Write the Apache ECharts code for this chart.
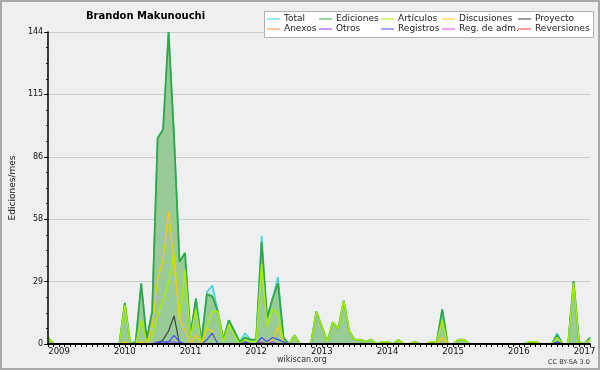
<!DOCTYPE html>
<html><head><meta charset="utf-8">
<script src="https://cdn.jsdelivr.net/npm/echarts@6/dist/echarts.min.js"></script>
<style>html,body{margin:0;padding:0;background:#fff}#c{width:600px;height:370px}</style>
</head><body><div id="c"></div>
<script>
// Months from Nov 2008 to Feb 2017 (category labels)
const firstYear = 2008, firstMonth = 11, monthCount = 100;
const months = [];
for (let k = 0; k < monthCount; k++) {
  const m = firstMonth - 1 + k;
  months.push((firstYear + Math.floor(m / 12)) + '-' + String(m % 12 + 1).padStart(2, '0'));
}
const yTicks = [0, 29, 58, 86, 115, 144];
const seriesNames = ['Total','Ediciones','Artículos','Discusiones','Proyecto','Anexos','Otros','Registros','Reg. de adm.','Reversiones'];

// rows: Nov-Dec 2008 | 2009 | 2010 | 2011 | 2012 | 2013 | 2014 | 2015 | 2016 | Jan-Feb 2017
const total = [3,0,
  0,0,0,0,0,0,0,0,0,0,0,0,
  19,0,1,28,2,15,95,99,144,97,38,42,
  4,21,1,24,27,15,2,11,6,1,5,2,
  2,50,12,21,31,3,0,4,0,0,0,15,
  8,1,10,7,20,6,2,2,1,2,0,1,
  1,0,2,0,0,1,0,0,1,1,16,0,
  0,2,2,0,0,0,0,0,0,0,0,0,
  0,0,1,1,0,0,0,5,0,0,29,1,
  0,3];
const ediciones = [3,0,
  0,0,0,0,0,0,0,0,0,0,0,0,
  19,0,1,28,2,15,95,99,144,95,38,42,
  4,21,1,23,22,15,2,11,6,1,3,2,
  2,47,12,21,28,3,0,4,0,0,0,15,
  8,1,10,7,20,6,2,2,1,2,0,1,
  1,0,2,0,0,1,0,0,1,1,16,0,
  0,2,2,0,0,0,0,0,0,0,0,0,
  0,0,1,1,0,0,0,4,0,0,29,1,
  0,3];
const articulos = [3,0,
  0,0,0,0,0,0,0,0,0,0,0,0,
  18,0,0,11,1,3,13,20,28,42,11,34,
  3,16,0,8,15,15,1,9,4,0,2,1,
  1,37,8,16,14,1,0,4,0,0,0,15,
  8,1,10,7,20,6,2,2,1,2,0,1,
  1,0,2,0,0,1,0,0,1,1,11,0,
  0,2,2,0,0,0,0,0,0,0,0,0,
  0,0,1,1,0,0,0,3,0,0,28,1,
  0,2];
const discusiones = [0,0,
  0,0,0,0,0,0,0,0,0,0,0,0,
  1,0,0,1,0,8,30,39,61,38,12,6,
  0,4,0,7,6,0,0,0,0,0,0,0,
  0,1,0,2,8,1,0,0,0,0,0,0,
  0,0,0,0,0,0,0,0,0,0,0,0,
  0,0,0,0,0,0,0,0,0,0,3,0,
  0,0,0,0,0,0,0,0,0,0,0,0,
  0,0,0,0,0,0,0,0,0,0,0,0,
  0,0];
const proyecto = [0,0,
  0,0,0,0,0,0,0,0,0,0,0,0,
  0,0,0,0,0,0,0,2,6,13,0,0,
  0,0,0,0,0,0,0,0,0,0,0,0,
  0,0,0,0,0,0,0,0,0,0,0,0,
  0,0,0,0,0,0,0,0,0,0,0,0,
  0,0,0,0,0,0,0,0,0,0,0,0,
  0,0,0,0,0,0,0,0,0,0,0,0,
  0,0,0,0,0,0,0,0,0,0,0,0,
  0,0];
const anexos = [0,0,
  0,0,0,0,0,0,0,0,0,0,0,0,
  0,0,0,0,0,0,0,0,0,0,0,0,
  0,0,0,0,0,0,0,0,0,0,0,0,
  0,0,0,0,0,0,0,0,0,0,0,0,
  0,0,0,0,0,0,0,0,0,0,0,0,
  0,0,0,0,0,0,0,0,0,0,0,0,
  0,0,0,0,0,0,0,0,0,0,0,0,
  0,0,0,0,0,0,0,0,0,0,0,0,
  0,0];
const otros = [0,0,
  0,0,0,0,0,0,0,0,0,0,0,0,
  0,0,0,0,0,0,0,0,1,1,0,0,
  0,0,0,0,0,0,0,0,0,0,0,0,
  0,1,0,1,0,0,0,0,0,0,0,0,
  0,0,0,0,0,0,0,0,0,0,0,0,
  0,0,0,0,0,0,0,0,0,0,0,0,
  0,0,0,0,0,0,0,0,0,0,0,0,
  0,0,0,0,0,0,0,0,0,0,0,0,
  0,0];
const registros = [0,0,
  0,0,0,0,0,0,0,0,0,0,0,0,
  0,0,0,0,0,0,1,1,1,4,1,0,
  0,0,0,2,5,0,0,0,0,0,1,0,
  0,3,1,3,2,1,0,0,0,0,0,0,
  0,0,0,0,0,0,0,0,0,0,0,0,
  0,0,0,0,0,0,0,0,0,0,0,0,
  0,0,0,0,0,0,0,0,0,0,0,0,
  0,0,0,0,0,0,0,1,0,0,0,0,
  0,0];
const regAdm = anexos.slice();
const reversiones = anexos.slice();

const lineColors = ['#3fd3cf','#2ea844','#a8ee00','#ffc800','#404040','#ff8840','#9933ee','#4a4aff','#ee44ee','#ff3333'];
const seriesData = [total, ediciones, articulos, discusiones, proyecto, anexos, otros, registros, regAdm, reversiones];
const lineWidths = [1.5, 1.8, 1.5, 1.2, 1.2, 1, 1, 1.2, 1, 1];

const FONT = "'DejaVu Sans', sans-serif";
const chart = echarts.init(document.getElementById('c'), null, {renderer: 'canvas'});

const series = seriesNames.map((name, k) => {
  const s = {
    name, type: 'line', data: seriesData[k], symbol: 'none', animation: false,
    color: lineColors[k], itemStyle: {color: lineColors[k]},
    lineStyle: {color: lineColors[k], width: lineWidths[k]}, z: 2 + k * 0.01
  };
  if (k === 0) s.areaStyle = {color: '#c9eeec', opacity: 1};
  if (k === 1) s.areaStyle = {color: '#99cb99', opacity: 1};
  return s;
});

const colX = [267, 319, 381, 442, 518];
const rowY = [14, 24];
const legends = seriesNames.map((name, k) => ({
  data: [name], left: colX[k % 5], top: rowY[Math.floor(k / 5)],
  icon: 'rect', itemWidth: 13, itemHeight: 1, itemGap: 0, padding: 0,
  selectedMode: false, z: 20,
  textStyle: {fontFamily: FONT, fontSize: 9, color: '#222', lineHeight: 10, padding: [0, 0, 0, -1]}
}));

chart.setOption({
  backgroundColor: '#eeeff1',
  animation: false,
  title: [
    {text: 'Brandon Makunouchi', left: 86, top: 11, padding: 0,
     textStyle: {fontFamily: FONT, fontSize: 10, fontWeight: 'bold', color: '#000'}},
    {text: 'wikiscan.org', left: 277, top: 356, padding: 0,
     textStyle: {fontFamily: FONT, fontSize: 8, fontWeight: 'normal', color: '#333'}},
    {text: 'CC BY-SA 3.0', left: 548, top: 359, padding: 0,
     textStyle: {fontFamily: FONT, fontSize: 6.5, fontWeight: 'normal', color: '#333'}}
  ],
  legend: legends,
  graphic: [
    {type: 'rect', z: -1, silent: true, shape: {x: 1, y: 1, width: 598, height: 368},
     style: {fill: null, stroke: '#a8a8a8', lineWidth: 2}},
    {type: 'rect', z: 5, silent: true, shape: {x: 264.5, y: 11.5, width: 329, height: 26},
     style: {fill: '#ffffff', stroke: '#b0b0b0', lineWidth: 1}}
  ],
  grid: {left: 46, right: 10, top: 32, bottom: 26, containLabel: false},
  xAxis: {
    type: 'category', data: months, boundaryGap: false, z: 10,
    axisLine: {lineStyle: {color: '#000', width: 2}},
    axisTick: {show: true, interval: 0, length: 3, lineStyle: {color: '#000', width: 1}},
    axisLabel: {
      interval: (idx, v) => v.endsWith('-01'),
      formatter: v => v.slice(0, 4),
      fontFamily: FONT, fontSize: 8.5, color: '#111', margin: 3
    },
    splitLine: {show: false}
  },
  yAxis: [
    {type: 'value', min: 0, max: 144, interval: 28.8,
     axisLine: {show: false}, axisTick: {show: false}, axisLabel: {show: false},
     splitLine: {show: true, lineStyle: {color: '#cccccc', width: 1}}},
    {type: 'value', min: 0, max: 144, interval: 28.8, position: 'left', z: 10,
     name: 'Ediciones/mes', nameLocation: 'middle', nameGap: 30, nameRotate: 90,
     nameTextStyle: {fontFamily: FONT, fontSize: 9, color: '#111'},
     axisLine: {show: true, lineStyle: {color: '#000', width: 1.5}},
     axisTick: {show: true, length: 4, lineStyle: {color: '#000'}},
     minorTick: {show: true, splitNumber: 4, length: 2, lineStyle: {color: '#000'}},
     axisLabel: {formatter: v => String(yTicks[Math.round(v / 28.8)]), fontFamily: FONT, fontSize: 8, color: '#111', margin: 5},
     splitLine: {show: false}}
  ],
  series
});
</script>
</body></html>
